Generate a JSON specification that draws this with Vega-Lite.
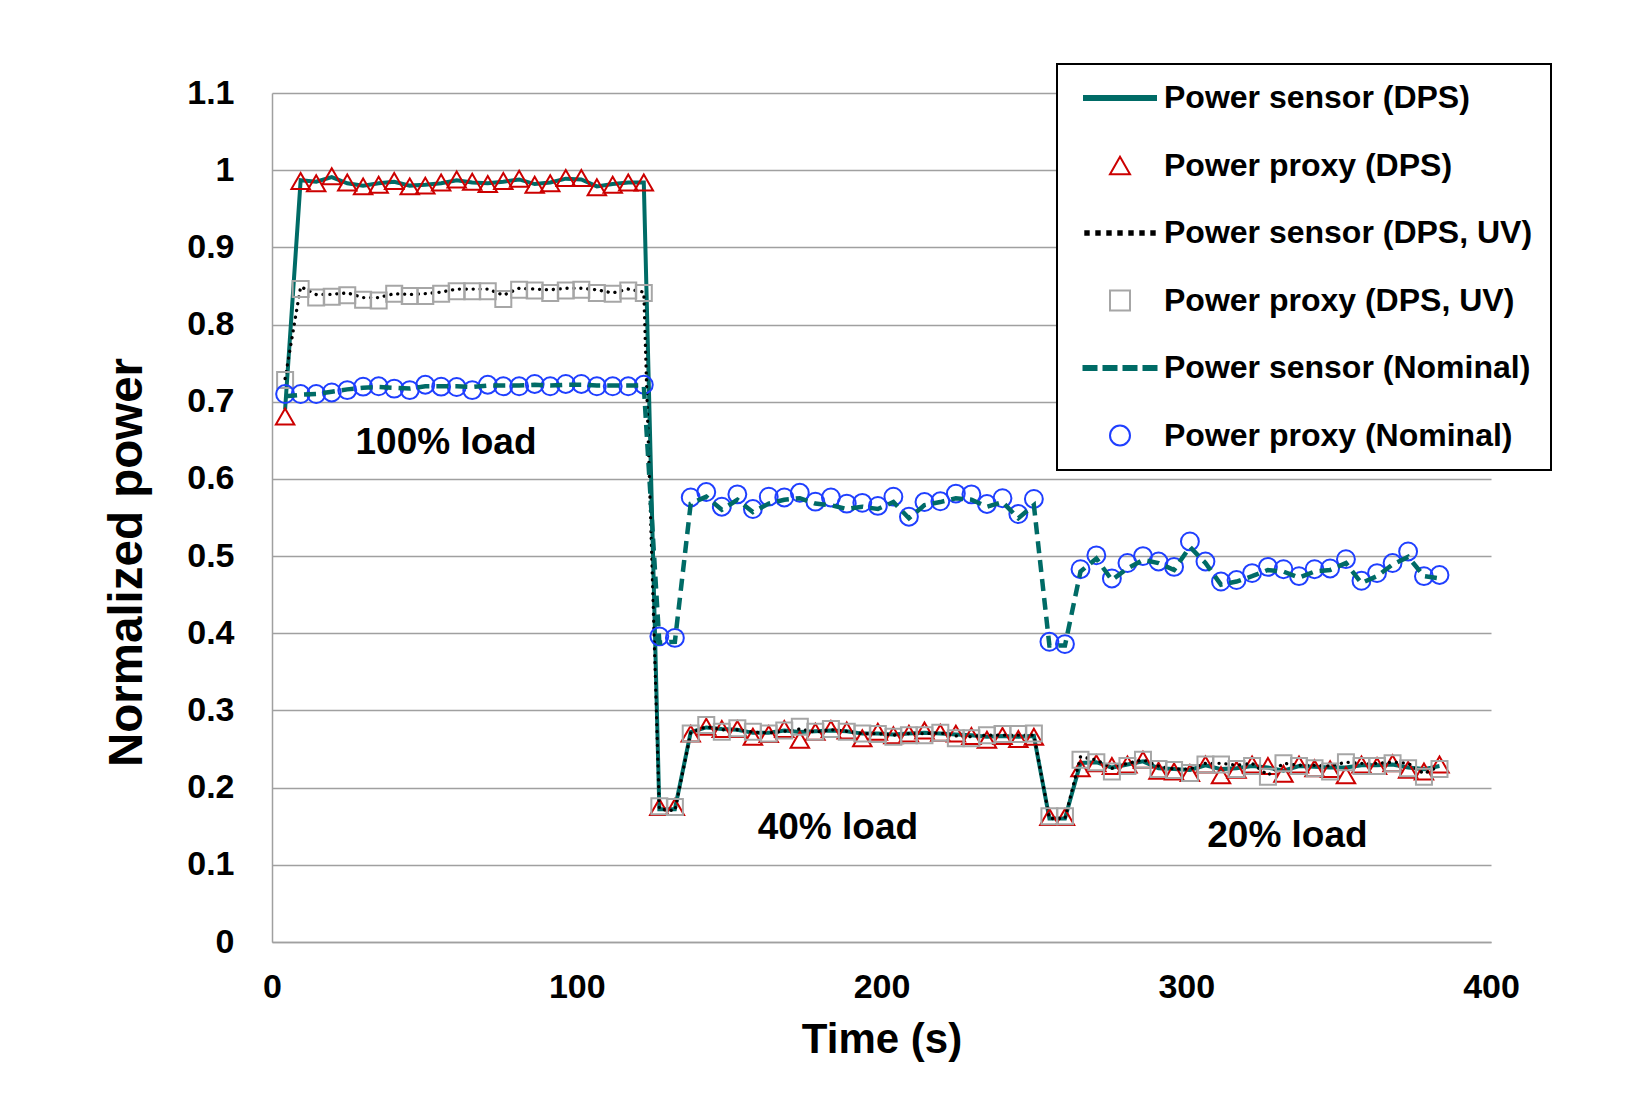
{
  "$schema": "https://vega.github.io/schema/vega-lite/v6.json",
  "width": 1219,
  "height": 849,
  "autosize": {"type": "none"},
  "padding": {"left": 272, "top": 93, "right": 149, "bottom": 153},
  "background": "white",
  "config": {
    "view": {"stroke": null},
    "font": "Liberation Sans"
  },
  "datasets": {
    "series": [
      {"t": 4.3, "Power sensor (DPS)": 0.69, "Power proxy (DPS)": 0.681, "Power sensor (DPS, UV)": 0.73, "Power proxy (DPS, UV)": 0.728, "Power sensor (Nominal)": 0.707, "Power proxy (Nominal)": 0.710},
      {"t": 9.4, "Power sensor (DPS)": 0.987, "Power proxy (DPS)": 0.986, "Power sensor (DPS, UV)": 0.849, "Power proxy (DPS, UV)": 0.846, "Power sensor (Nominal)": 0.709, "Power proxy (Nominal)": 0.710},
      {"t": 14.5, "Power sensor (DPS)": 0.985, "Power proxy (DPS)": 0.983, "Power sensor (DPS, UV)": 0.839, "Power proxy (DPS, UV)": 0.835, "Power sensor (Nominal)": 0.710, "Power proxy (Nominal)": 0.710},
      {"t": 19.6, "Power sensor (DPS)": 0.991, "Power proxy (DPS)": 0.992, "Power sensor (DPS, UV)": 0.839, "Power proxy (DPS, UV)": 0.836, "Power sensor (Nominal)": 0.713, "Power proxy (Nominal)": 0.712},
      {"t": 24.7, "Power sensor (DPS)": 0.983, "Power proxy (DPS)": 0.984, "Power sensor (DPS, UV)": 0.841, "Power proxy (DPS, UV)": 0.838, "Power sensor (Nominal)": 0.716, "Power proxy (Nominal)": 0.715},
      {"t": 29.9, "Power sensor (DPS)": 0.980, "Power proxy (DPS)": 0.979, "Power sensor (DPS, UV)": 0.835, "Power proxy (DPS, UV)": 0.832, "Power sensor (Nominal)": 0.718, "Power proxy (Nominal)": 0.7195},
      {"t": 35.0, "Power sensor (DPS)": 0.983, "Power proxy (DPS)": 0.981, "Power sensor (DPS, UV)": 0.835, "Power proxy (DPS, UV)": 0.831, "Power sensor (Nominal)": 0.719, "Power proxy (Nominal)": 0.720},
      {"t": 40.1, "Power sensor (DPS)": 0.985, "Power proxy (DPS)": 0.986, "Power sensor (DPS, UV)": 0.840, "Power proxy (DPS, UV)": 0.840, "Power sensor (Nominal)": 0.718, "Power proxy (Nominal)": 0.717},
      {"t": 45.2, "Power sensor (DPS)": 0.980, "Power proxy (DPS)": 0.979, "Power sensor (DPS, UV)": 0.839, "Power proxy (DPS, UV)": 0.837, "Power sensor (Nominal)": 0.717, "Power proxy (Nominal)": 0.715},
      {"t": 50.3, "Power sensor (DPS)": 0.981, "Power proxy (DPS)": 0.980, "Power sensor (DPS, UV)": 0.840, "Power proxy (DPS, UV)": 0.837, "Power sensor (Nominal)": 0.720, "Power proxy (Nominal)": 0.722},
      {"t": 55.5, "Power sensor (DPS)": 0.983, "Power proxy (DPS)": 0.984, "Power sensor (DPS, UV)": 0.842, "Power proxy (DPS, UV)": 0.840, "Power sensor (Nominal)": 0.720, "Power proxy (Nominal)": 0.7195},
      {"t": 60.6, "Power sensor (DPS)": 0.987, "Power proxy (DPS)": 0.988, "Power sensor (DPS, UV)": 0.846, "Power proxy (DPS, UV)": 0.843, "Power sensor (Nominal)": 0.720, "Power proxy (Nominal)": 0.719},
      {"t": 65.7, "Power sensor (DPS)": 0.984, "Power proxy (DPS)": 0.985, "Power sensor (DPS, UV)": 0.846, "Power proxy (DPS, UV)": 0.843, "Power sensor (Nominal)": 0.719, "Power proxy (Nominal)": 0.715},
      {"t": 70.8, "Power sensor (DPS)": 0.983, "Power proxy (DPS)": 0.982, "Power sensor (DPS, UV)": 0.846, "Power proxy (DPS, UV)": 0.843, "Power sensor (Nominal)": 0.721, "Power proxy (Nominal)": 0.722},
      {"t": 75.9, "Power sensor (DPS)": 0.985, "Power proxy (DPS)": 0.986, "Power sensor (DPS, UV)": 0.838, "Power proxy (DPS, UV)": 0.833, "Power sensor (Nominal)": 0.721, "Power proxy (Nominal)": 0.720},
      {"t": 81.1, "Power sensor (DPS)": 0.988, "Power proxy (DPS)": 0.989, "Power sensor (DPS, UV)": 0.847, "Power proxy (DPS, UV)": 0.845, "Power sensor (Nominal)": 0.721, "Power proxy (Nominal)": 0.720},
      {"t": 86.2, "Power sensor (DPS)": 0.982, "Power proxy (DPS)": 0.981, "Power sensor (DPS, UV)": 0.846, "Power proxy (DPS, UV)": 0.844, "Power sensor (Nominal)": 0.722, "Power proxy (Nominal)": 0.723},
      {"t": 91.3, "Power sensor (DPS)": 0.984, "Power proxy (DPS)": 0.983, "Power sensor (DPS, UV)": 0.845, "Power proxy (DPS, UV)": 0.841, "Power sensor (Nominal)": 0.721, "Power proxy (Nominal)": 0.720},
      {"t": 96.4, "Power sensor (DPS)": 0.989, "Power proxy (DPS)": 0.990, "Power sensor (DPS, UV)": 0.847, "Power proxy (DPS, UV)": 0.844, "Power sensor (Nominal)": 0.722, "Power proxy (Nominal)": 0.723},
      {"t": 101.5, "Power sensor (DPS)": 0.988, "Power proxy (DPS)": 0.990, "Power sensor (DPS, UV)": 0.847, "Power proxy (DPS, UV)": 0.845, "Power sensor (Nominal)": 0.722, "Power proxy (Nominal)": 0.723},
      {"t": 106.6, "Power sensor (DPS)": 0.979, "Power proxy (DPS)": 0.978, "Power sensor (DPS, UV)": 0.845, "Power proxy (DPS, UV)": 0.841, "Power sensor (Nominal)": 0.721, "Power proxy (Nominal)": 0.720},
      {"t": 111.8, "Power sensor (DPS)": 0.982, "Power proxy (DPS)": 0.981, "Power sensor (DPS, UV)": 0.841, "Power proxy (DPS, UV)": 0.840, "Power sensor (Nominal)": 0.721, "Power proxy (Nominal)": 0.720},
      {"t": 116.9, "Power sensor (DPS)": 0.984, "Power proxy (DPS)": 0.984, "Power sensor (DPS, UV)": 0.846, "Power proxy (DPS, UV)": 0.844, "Power sensor (Nominal)": 0.721, "Power proxy (Nominal)": 0.720},
      {"t": 122.0, "Power sensor (DPS)": 0.984, "Power proxy (DPS)": 0.984, "Power sensor (DPS, UV)": 0.842, "Power proxy (DPS, UV)": 0.841, "Power sensor (Nominal)": 0.721, "Power proxy (Nominal)": 0.722},
      {"t": 127.1, "Power sensor (DPS)": 0.172, "Power proxy (DPS)": 0.175, "Power sensor (DPS, UV)": 0.172, "Power proxy (DPS, UV)": 0.176, "Power sensor (Nominal)": 0.388, "Power proxy (Nominal)": 0.396},
      {"t": 132.2, "Power sensor (DPS)": 0.172, "Power proxy (DPS)": 0.175, "Power sensor (DPS, UV)": 0.170, "Power proxy (DPS, UV)": 0.175, "Power sensor (Nominal)": 0.389, "Power proxy (Nominal)": 0.394},
      {"t": 137.4, "Power sensor (DPS)": 0.272, "Power proxy (DPS)": 0.270, "Power sensor (DPS, UV)": 0.271, "Power proxy (DPS, UV)": 0.270, "Power sensor (Nominal)": 0.568, "Power proxy (Nominal)": 0.576},
      {"t": 142.5, "Power sensor (DPS)": 0.278, "Power proxy (DPS)": 0.279, "Power sensor (DPS, UV)": 0.279, "Power proxy (DPS, UV)": 0.281, "Power sensor (Nominal)": 0.577, "Power proxy (Nominal)": 0.583},
      {"t": 147.6, "Power sensor (DPS)": 0.276, "Power proxy (DPS)": 0.276, "Power sensor (DPS, UV)": 0.275, "Power proxy (DPS, UV)": 0.2725, "Power sensor (Nominal)": 0.560, "Power proxy (Nominal)": 0.564},
      {"t": 152.7, "Power sensor (DPS)": 0.275, "Power proxy (DPS)": 0.276, "Power sensor (DPS, UV)": 0.275, "Power proxy (DPS, UV)": 0.277, "Power sensor (Nominal)": 0.573, "Power proxy (Nominal)": 0.580},
      {"t": 157.8, "Power sensor (DPS)": 0.271, "Power proxy (DPS)": 0.266, "Power sensor (DPS, UV)": 0.272, "Power proxy (DPS, UV)": 0.2725, "Power sensor (Nominal)": 0.557, "Power proxy (Nominal)": 0.561},
      {"t": 163.0, "Power sensor (DPS)": 0.271, "Power proxy (DPS)": 0.2695, "Power sensor (DPS, UV)": 0.271, "Power proxy (DPS, UV)": 0.270, "Power sensor (Nominal)": 0.568, "Power proxy (Nominal)": 0.577},
      {"t": 168.1, "Power sensor (DPS)": 0.274, "Power proxy (DPS)": 0.276, "Power sensor (DPS, UV)": 0.273, "Power proxy (DPS, UV)": 0.274, "Power sensor (Nominal)": 0.573, "Power proxy (Nominal)": 0.576},
      {"t": 173.2, "Power sensor (DPS)": 0.272, "Power proxy (DPS)": 0.262, "Power sensor (DPS, UV)": 0.276, "Power proxy (DPS, UV)": 0.279, "Power sensor (Nominal)": 0.575, "Power proxy (Nominal)": 0.582},
      {"t": 178.3, "Power sensor (DPS)": 0.273, "Power proxy (DPS)": 0.2725, "Power sensor (DPS, UV)": 0.272, "Power proxy (DPS, UV)": 0.2725, "Power sensor (Nominal)": 0.568, "Power proxy (Nominal)": 0.5705},
      {"t": 183.4, "Power sensor (DPS)": 0.274, "Power proxy (DPS)": 0.276, "Power sensor (DPS, UV)": 0.275, "Power proxy (DPS, UV)": 0.276, "Power sensor (Nominal)": 0.566, "Power proxy (Nominal)": 0.576},
      {"t": 188.6, "Power sensor (DPS)": 0.273, "Power proxy (DPS)": 0.274, "Power sensor (DPS, UV)": 0.273, "Power proxy (DPS, UV)": 0.2725, "Power sensor (Nominal)": 0.561, "Power proxy (Nominal)": 0.568},
      {"t": 193.7, "Power sensor (DPS)": 0.270, "Power proxy (DPS)": 0.264, "Power sensor (DPS, UV)": 0.270, "Power proxy (DPS, UV)": 0.270, "Power sensor (Nominal)": 0.564, "Power proxy (Nominal)": 0.569},
      {"t": 198.8, "Power sensor (DPS)": 0.270, "Power proxy (DPS)": 0.2725, "Power sensor (DPS, UV)": 0.270, "Power proxy (DPS, UV)": 0.2695, "Power sensor (Nominal)": 0.561, "Power proxy (Nominal)": 0.565},
      {"t": 203.9, "Power sensor (DPS)": 0.269, "Power proxy (DPS)": 0.268, "Power sensor (DPS, UV)": 0.268, "Power proxy (DPS, UV)": 0.266, "Power sensor (Nominal)": 0.570, "Power proxy (Nominal)": 0.577},
      {"t": 209.0, "Power sensor (DPS)": 0.270, "Power proxy (DPS)": 0.270, "Power sensor (DPS, UV)": 0.270, "Power proxy (DPS, UV)": 0.268, "Power sensor (Nominal)": 0.549, "Power proxy (Nominal)": 0.551},
      {"t": 214.1, "Power sensor (DPS)": 0.271, "Power proxy (DPS)": 0.274, "Power sensor (DPS, UV)": 0.270, "Power proxy (DPS, UV)": 0.268, "Power sensor (Nominal)": 0.566, "Power proxy (Nominal)": 0.570},
      {"t": 219.3, "Power sensor (DPS)": 0.270, "Power proxy (DPS)": 0.271, "Power sensor (DPS, UV)": 0.271, "Power proxy (DPS, UV)": 0.271, "Power sensor (Nominal)": 0.570, "Power proxy (Nominal)": 0.571},
      {"t": 224.4, "Power sensor (DPS)": 0.269, "Power proxy (DPS)": 0.270, "Power sensor (DPS, UV)": 0.267, "Power proxy (DPS, UV)": 0.264, "Power sensor (Nominal)": 0.575, "Power proxy (Nominal)": 0.581},
      {"t": 229.5, "Power sensor (DPS)": 0.268, "Power proxy (DPS)": 0.267, "Power sensor (DPS, UV)": 0.266, "Power proxy (DPS, UV)": 0.264, "Power sensor (Nominal)": 0.573, "Power proxy (Nominal)": 0.580},
      {"t": 234.6, "Power sensor (DPS)": 0.266, "Power proxy (DPS)": 0.262, "Power sensor (DPS, UV)": 0.268, "Power proxy (DPS, UV)": 0.268, "Power sensor (Nominal)": 0.564, "Power proxy (Nominal)": 0.5675},
      {"t": 239.7, "Power sensor (DPS)": 0.267, "Power proxy (DPS)": 0.267, "Power sensor (DPS, UV)": 0.268, "Power proxy (DPS, UV)": 0.2695, "Power sensor (Nominal)": 0.570, "Power proxy (Nominal)": 0.575},
      {"t": 244.9, "Power sensor (DPS)": 0.266, "Power proxy (DPS)": 0.263, "Power sensor (DPS, UV)": 0.268, "Power proxy (DPS, UV)": 0.2695, "Power sensor (Nominal)": 0.549, "Power proxy (Nominal)": 0.5545},
      {"t": 250.0, "Power sensor (DPS)": 0.267, "Power proxy (DPS)": 0.266, "Power sensor (DPS, UV)": 0.268, "Power proxy (DPS, UV)": 0.270, "Power sensor (Nominal)": 0.566, "Power proxy (Nominal)": 0.574},
      {"t": 255.1, "Power sensor (DPS)": 0.160, "Power proxy (DPS)": 0.162, "Power sensor (DPS, UV)": 0.160, "Power proxy (DPS, UV)": 0.163, "Power sensor (Nominal)": 0.384, "Power proxy (Nominal)": 0.389},
      {"t": 260.2, "Power sensor (DPS)": 0.160, "Power proxy (DPS)": 0.162, "Power sensor (DPS, UV)": 0.160, "Power proxy (DPS, UV)": 0.163, "Power sensor (Nominal)": 0.384, "Power proxy (Nominal)": 0.386},
      {"t": 265.3, "Power sensor (DPS)": 0.232, "Power proxy (DPS)": 0.225, "Power sensor (DPS, UV)": 0.240, "Power proxy (DPS, UV)": 0.236, "Power sensor (Nominal)": 0.480, "Power proxy (Nominal)": 0.483},
      {"t": 270.5, "Power sensor (DPS)": 0.233, "Power proxy (DPS)": 0.2315, "Power sensor (DPS, UV)": 0.236, "Power proxy (DPS, UV)": 0.233, "Power sensor (Nominal)": 0.497, "Power proxy (Nominal)": 0.501},
      {"t": 275.6, "Power sensor (DPS)": 0.226, "Power proxy (DPS)": 0.228, "Power sensor (DPS, UV)": 0.225, "Power proxy (DPS, UV)": 0.221, "Power sensor (Nominal)": 0.469, "Power proxy (Nominal)": 0.471},
      {"t": 280.7, "Power sensor (DPS)": 0.230, "Power proxy (DPS)": 0.230, "Power sensor (DPS, UV)": 0.2315, "Power proxy (DPS, UV)": 0.228, "Power sensor (Nominal)": 0.484, "Power proxy (Nominal)": 0.491},
      {"t": 285.8, "Power sensor (DPS)": 0.234, "Power proxy (DPS)": 0.236, "Power sensor (DPS, UV)": 0.236, "Power proxy (DPS, UV)": 0.236, "Power sensor (Nominal)": 0.495, "Power proxy (Nominal)": 0.500},
      {"t": 290.9, "Power sensor (DPS)": 0.225, "Power proxy (DPS)": 0.222, "Power sensor (DPS, UV)": 0.228, "Power proxy (DPS, UV)": 0.224, "Power sensor (Nominal)": 0.491, "Power proxy (Nominal)": 0.493},
      {"t": 296.0, "Power sensor (DPS)": 0.224, "Power proxy (DPS)": 0.221, "Power sensor (DPS, UV)": 0.224, "Power proxy (DPS, UV)": 0.223, "Power sensor (Nominal)": 0.482, "Power proxy (Nominal)": 0.486},
      {"t": 301.2, "Power sensor (DPS)": 0.223, "Power proxy (DPS)": 0.219, "Power sensor (DPS, UV)": 0.224, "Power proxy (DPS, UV)": 0.219, "Power sensor (Nominal)": 0.512, "Power proxy (Nominal)": 0.519},
      {"t": 306.3, "Power sensor (DPS)": 0.229, "Power proxy (DPS)": 0.230, "Power sensor (DPS, UV)": 0.2315, "Power proxy (DPS, UV)": 0.230, "Power sensor (Nominal)": 0.491, "Power proxy (Nominal)": 0.493},
      {"t": 311.4, "Power sensor (DPS)": 0.224, "Power proxy (DPS)": 0.216, "Power sensor (DPS, UV)": 0.2315, "Power proxy (DPS, UV)": 0.230, "Power sensor (Nominal)": 0.463, "Power proxy (Nominal)": 0.467},
      {"t": 316.5, "Power sensor (DPS)": 0.225, "Power proxy (DPS)": 0.223, "Power sensor (DPS, UV)": 0.229, "Power proxy (DPS, UV)": 0.224, "Power sensor (Nominal)": 0.467, "Power proxy (Nominal)": 0.469},
      {"t": 321.6, "Power sensor (DPS)": 0.228, "Power proxy (DPS)": 0.230, "Power sensor (DPS, UV)": 0.2315, "Power proxy (DPS, UV)": 0.228, "Power sensor (Nominal)": 0.474, "Power proxy (Nominal)": 0.478},
      {"t": 326.8, "Power sensor (DPS)": 0.226, "Power proxy (DPS)": 0.228, "Power sensor (DPS, UV)": 0.216, "Power proxy (DPS, UV)": 0.214, "Power sensor (Nominal)": 0.482, "Power proxy (Nominal)": 0.486},
      {"t": 331.9, "Power sensor (DPS)": 0.222, "Power proxy (DPS)": 0.218, "Power sensor (DPS, UV)": 0.2315, "Power proxy (DPS, UV)": 0.2315, "Power sensor (Nominal)": 0.480, "Power proxy (Nominal)": 0.483},
      {"t": 337.0, "Power sensor (DPS)": 0.228, "Power proxy (DPS)": 0.230, "Power sensor (DPS, UV)": 0.229, "Power proxy (DPS, UV)": 0.228, "Power sensor (Nominal)": 0.472, "Power proxy (Nominal)": 0.474},
      {"t": 342.1, "Power sensor (DPS)": 0.227, "Power proxy (DPS)": 0.225, "Power sensor (DPS, UV)": 0.229, "Power proxy (DPS, UV)": 0.225, "Power sensor (Nominal)": 0.480, "Power proxy (Nominal)": 0.483},
      {"t": 347.2, "Power sensor (DPS)": 0.226, "Power proxy (DPS)": 0.224, "Power sensor (DPS, UV)": 0.228, "Power proxy (DPS, UV)": 0.221, "Power sensor (Nominal)": 0.482, "Power proxy (Nominal)": 0.484},
      {"t": 352.4, "Power sensor (DPS)": 0.226, "Power proxy (DPS)": 0.216, "Power sensor (DPS, UV)": 0.233, "Power proxy (DPS, UV)": 0.233, "Power sensor (Nominal)": 0.491, "Power proxy (Nominal)": 0.496},
      {"t": 357.5, "Power sensor (DPS)": 0.229, "Power proxy (DPS)": 0.230, "Power sensor (DPS, UV)": 0.2315, "Power proxy (DPS, UV)": 0.228, "Power sensor (Nominal)": 0.465, "Power proxy (Nominal)": 0.468},
      {"t": 362.6, "Power sensor (DPS)": 0.229, "Power proxy (DPS)": 0.228, "Power sensor (DPS, UV)": 0.2315, "Power proxy (DPS, UV)": 0.228, "Power sensor (Nominal)": 0.474, "Power proxy (Nominal)": 0.478},
      {"t": 367.7, "Power sensor (DPS)": 0.230, "Power proxy (DPS)": 0.2315, "Power sensor (DPS, UV)": 0.233, "Power proxy (DPS, UV)": 0.2315, "Power sensor (Nominal)": 0.489, "Power proxy (Nominal)": 0.491},
      {"t": 372.8, "Power sensor (DPS)": 0.226, "Power proxy (DPS)": 0.223, "Power sensor (DPS, UV)": 0.2315, "Power proxy (DPS, UV)": 0.225, "Power sensor (Nominal)": 0.499, "Power proxy (Nominal)": 0.506},
      {"t": 378.0, "Power sensor (DPS)": 0.224, "Power proxy (DPS)": 0.221, "Power sensor (DPS, UV)": 0.218, "Power proxy (DPS, UV)": 0.214, "Power sensor (Nominal)": 0.474, "Power proxy (Nominal)": 0.474},
      {"t": 383.1, "Power sensor (DPS)": 0.228, "Power proxy (DPS)": 0.230, "Power sensor (DPS, UV)": 0.228, "Power proxy (DPS, UV)": 0.224, "Power sensor (Nominal)": 0.471, "Power proxy (Nominal)": 0.4755}
    ],
    "notes": [
      {"t": 57.1, "value": 0.647, "label": "100% load"},
      {"t": 185.7, "value": 0.148, "label": "40% load"},
      {"t": 333.2, "value": 0.137, "label": "20% load"}
    ]
  },
  "encoding": {
    "x": {
      "field": "t", "type": "quantitative",
      "scale": {"domain": [0, 400], "nice": false, "zero": false},
      "axis": {
        "title": "Time (s)", "values": [0, 100, 200, 300, 400], "grid": false,
        "ticks": false, "tickSize": 0, "labelPadding": 28.5, "labelFlush": false,
        "domainColor": "#a0a0a0", "domainWidth": 1.5,
        "labelFont": "Liberation Sans", "labelFontSize": 34, "labelFontWeight": "bold", "labelColor": "black",
        "titleFont": "Liberation Sans", "titleFontSize": 42, "titleFontWeight": "bold", "titleColor": "black",
        "titlePadding": 15
      }
    },
    "y": {
      "field": "value", "type": "quantitative",
      "scale": {"domain": [0, 1.1], "nice": false, "zero": false},
      "axis": {
        "title": "Normalized power",
        "values": [0, 0.1, 0.2, 0.3, 0.4, 0.5, 0.6, 0.7, 0.8, 0.9, 1, 1.1],
        "format": "~g", "grid": true, "gridColor": "#a0a0a0", "gridWidth": 1.5,
        "ticks": false, "tickSize": 0, "labelPadding": 38, "labelFlush": false, "labelOverlap": false,
        "domainColor": "#a0a0a0", "domainWidth": 1.5,
        "labelFont": "Liberation Sans", "labelFontSize": 34, "labelFontWeight": "bold", "labelColor": "black",
        "titleFont": "Liberation Sans", "titleFontSize": 47.5, "titleFontWeight": "bold", "titleColor": "black",
        "titlePadding": 35, "titleY": 469
      }
    }
  },
  "layer": [
    {
      "data": {"name": "series"},
      "transform": [
        {"fold": ["Power sensor (DPS)", "Power proxy (DPS)", "Power sensor (DPS, UV)", "Power proxy (DPS, UV)", "Power sensor (Nominal)", "Power proxy (Nominal)"], "as": ["series", "value"]}
      ],
      "encoding": {
        "color": {
          "field": "series", "type": "nominal",
          "scale": {
            "domain": ["Power sensor (DPS)", "Power proxy (DPS)", "Power sensor (DPS, UV)", "Power proxy (DPS, UV)", "Power sensor (Nominal)", "Power proxy (Nominal)"],
            "range": ["#006b66", "#cc0000", "#000000", "#a6a6a6", "#006b66", "#1f3fff"]
          },
          "legend": {
            "title": null,
            "orient": "none", "legendX": 785, "legendY": -29,
            "direction": "vertical",
            "fillColor": "white", "strokeColor": "black", "padding": 18,
            "labelFont": "Liberation Sans", "labelFontSize": 32, "labelFontWeight": "bold", "labelColor": "black",
            "labelLimit": 600,
            "labelOffset": 28, "symbolOffset": 29, "symbolSize": 400, "symbolStrokeWidth": 2,
            "rowPadding": 35.5,
            "encode": {
              "symbols": {
                "update": {
                  "shape": {"signal": "datum.value === 'Power sensor (DPS)' ? 'M-3.6,-0.2L3.6,-0.2L3.6,0.2L-3.6,0.2Z' : datum.value === 'Power proxy (DPS)' ? 'triangle-up' : datum.value === 'Power sensor (DPS, UV)' ? 'M-3.47,-0.17L-3.13,-0.17L-3.13,0.17L-3.47,0.17Z M-2.37,-0.17L-2.03,-0.17L-2.03,0.17L-2.37,0.17Z M-1.27,-0.17L-0.93,-0.17L-0.93,0.17L-1.27,0.17Z M-0.17,-0.17L0.17,-0.17L0.17,0.17L-0.17,0.17Z M0.93,-0.17L1.27,-0.17L1.27,0.17L0.93,0.17Z M2.03,-0.17L2.37,-0.17L2.37,0.17L2.03,0.17Z M3.13,-0.17L3.47,-0.17L3.47,0.17L3.13,0.17Z' : datum.value === 'Power proxy (DPS, UV)' ? 'square' : datum.value === 'Power sensor (Nominal)' ? 'M-3.65,-0.2L-2.35,-0.2L-2.35,0.2L-3.65,0.2Z M-1.65,-0.2L-0.35,-0.2L-0.35,0.2L-1.65,0.2Z M0.35,-0.2L1.65,-0.2L1.65,0.2L0.35,0.2Z M2.35,-0.2L3.65,-0.2L3.65,0.2L2.35,0.2Z' : 'circle'"},
                  "fill": {"signal": "datum.value === 'Power sensor (DPS, UV)' ? '#000000' : (datum.value === 'Power sensor (DPS)' || datum.value === 'Power sensor (Nominal)') ? '#006b66' : 'transparent'"},
                  "stroke": {"signal": "datum.value === 'Power proxy (DPS)' ? '#cc0000' : datum.value === 'Power proxy (DPS, UV)' ? '#a6a6a6' : datum.value === 'Power proxy (Nominal)' ? '#1f3fff' : 'transparent'"},
                  "strokeWidth": {"value": 2},
                  "opacity": {"value": 1}
                }
              },
              "legend": {
                "update": {
                  "strokeWidth": {"value": 2}
                }
              }
            }
          }
        }
      },
      "layer": [
        {
          "transform": [{"filter": "datum.series === 'Power sensor (DPS)'"}],
          "mark": {"type": "line", "strokeWidth": 4, "interpolate": "linear"}
        },
        {
          "transform": [{"filter": "datum.series === 'Power proxy (DPS)'"}],
          "mark": {"type": "point", "shape": "triangle-up", "filled": false, "size": 340, "strokeWidth": 2, "opacity": 1}
        },
        {
          "transform": [{"filter": "datum.series === 'Power sensor (DPS, UV)'"}],
          "mark": {"type": "line", "strokeWidth": 3.3, "strokeDash": [0.1, 6.8], "strokeCap": "round"}
        },
        {
          "transform": [{"filter": "datum.series === 'Power proxy (DPS, UV)'"}],
          "mark": {"type": "point", "shape": "square", "filled": false, "size": 256, "strokeWidth": 2, "opacity": 1}
        },
        {
          "transform": [{"filter": "datum.series === 'Power proxy (Nominal)'"}],
          "mark": {"type": "point", "shape": "circle", "filled": false, "size": 320, "strokeWidth": 2, "opacity": 1}
        },
        {
          "transform": [{"filter": "datum.series === 'Power sensor (Nominal)'"}],
          "mark": {"type": "line", "strokeWidth": 4.5, "strokeDash": [12, 7]}
        }
      ]
    },
    {
      "data": {"name": "notes"},
      "mark": {"type": "text", "font": "Liberation Sans", "fontSize": 37, "fontWeight": "bold", "color": "black", "align": "center", "baseline": "middle"},
      "encoding": {
        "text": {"field": "label", "type": "nominal"}
      }
    }
  ]
}
